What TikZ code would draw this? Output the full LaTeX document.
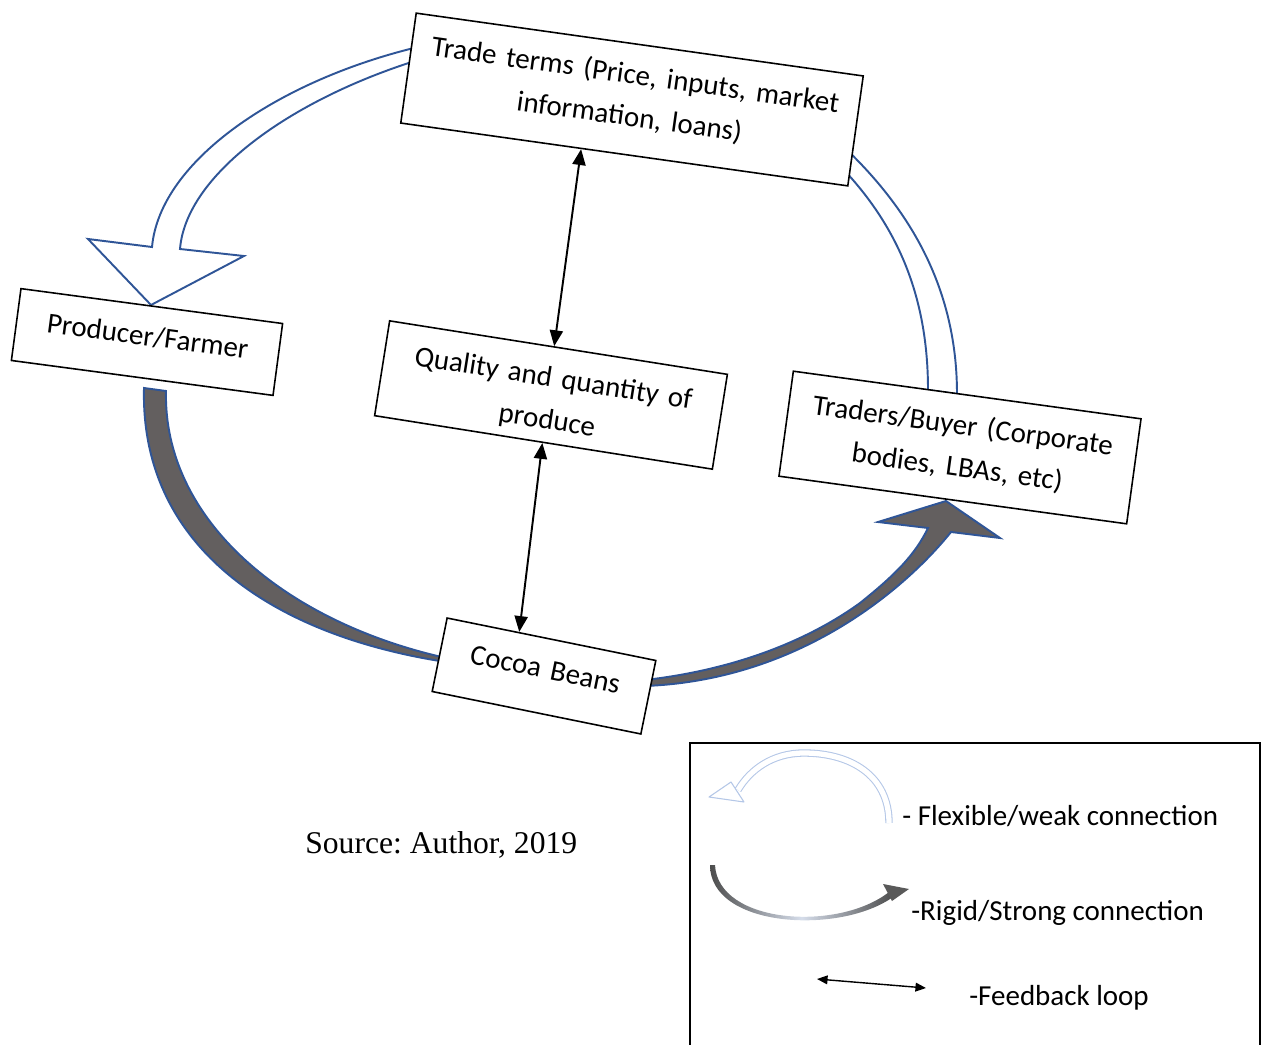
\documentclass[tikz,border=0pt]{standalone}
\usepackage{fontspec}
\setmainfont{Carlito}
\newfontfamily\srcfont{Liberation Serif}
\frenchspacing
\usetikzlibrary{arrows.meta,calc,backgrounds}

\definecolor{flowblue}{RGB}{47,85,151}
\definecolor{flowgrey}{RGB}{99,95,95}
\definecolor{legblue}{RGB}{180,199,231}
\newcommand\boxfont{\fontsize{16.5}{24}\selectfont}

\tikzset{
    box/.style={draw, fill=white, line width=0.9pt, inner sep=0pt, align=center,
        text height=0.8cm, rotate=#1, font=\boxfont},
    feedback/.style={line width=1.1pt,
        {Triangle[length=9pt,width=7.5pt]}-{Triangle[length=9pt,width=7.5pt]}},
    weak/.style={draw=flowblue, line width=1.1pt, fill=white},
    strong/.style={draw=flowblue, line width=1.1pt, fill=flowgrey},
    legtext/.style={anchor=base west, inner sep=0pt, font=\boxfont}
}

\begin{document}
\begin{tikzpicture}[x=0.02cm, y=-0.02cm]
    \useasboundingbox (0,0) rectangle (1269,1045);

    \node[box=-8, text width=9.03cm, text depth=1.42cm] (trade) at (632,99.5)
        {Trade terms (Price, inputs, market\\information, loans)};
    \node[box=-7.6, text width=5.28cm, text depth=0.65cm] (farmer) at (147,342)
        {Producer/Farmer};
    \node[box=-9, text width=6.84cm, text depth=1.12cm] (quality) at (551,395)
        {Quality and quantity of\\produce};
    \node[box=-7.8, text width=7.02cm, text depth=1.32cm] (traders) at (960,447.5)
        {Traders/Buyer (Corporate\\bodies, LBAs, etc)};
    \node[box=-11.5, text width=4.26cm, text depth=0.7cm] (beans) at (544,676)
        {Cocoa Beans};

    \draw[feedback] ($(trade.south west)!0.404!(trade.south east)$) -- ($(quality.north west)!0.487!(quality.north east)$);
    \draw[feedback] ($(quality.south west)!0.497!(quality.south east)$) -- ($(beans.north west)!0.346!(beans.north east)$);

    \begin{scope}[on background layer]
        \draw[weak] (418,47) .. controls (280,80) and (160,160) .. (152,247) -- (88,239) -- (151,305)
            -- (244,256) -- (180,249) .. controls (186,175) and (290,100) .. (418,60) -- cycle;
        \draw[weak] (846,149) .. controls (920,220) and (957,300) .. (957,394) -- (928,390)
            .. controls (928,300) and (900,230) .. (844,170) -- cycle;
        \draw[strong] (144,388) .. controls (140,545) and (270,635) .. (446,662) -- (446,658)
            .. controls (285,622) and (163,520) .. (166,391) -- cycle;
        \draw[strong] (645,686) .. controls (800,680) and (906,588) .. (951,532) -- (1000,538)
            -- (946,501) -- (878,522) -- (928,528) .. controls (915,555) and (895,575) .. (860,603)
            .. controls (820,632) and (750,668) .. (645,680) -- cycle;
    \end{scope}

    \node[anchor=base west, inner sep=0pt, font={\srcfont\fontsize{18}{22}\selectfont}] (source) at (305,853)
        {Source: Author, 2019};

    \draw[line width=0.9pt] (690,1045) -- (690,743) -- (1260,743) -- (1260,1045);
    \draw[legblue, line width=0.6pt, double=white, double distance=3pt] (889,823)
        .. controls (889,775) and (850,753) .. (804,753) .. controls (772,753) and (750,770) .. (738,790);
    \draw[legblue, line width=0.6pt, fill=white, line join=round] (731,782) -- (709,797) -- (744,802) -- cycle;
    \shade[left color=black!70, right color=black!70, middle color=flowblue!20!white]
        (710,865) .. controls (710,928) and (840,935) .. (893,897)
        -- (889,892) .. controls (838,932) and (718,924) .. (715,865) -- cycle;
    \fill[black!65] (883,884) -- (909,889) -- (892,901) -- cycle;
    \draw[line width=0.8pt, {Triangle[length=6pt,width=5pt]}-{Triangle[length=6pt,width=5pt]}] (817,979) -- (926,988);

    \node[legtext] (weaktxt) at (902,825) {- Flexible/weak connection};
    \node[legtext] (strongtxt) at (911,920) {-Rigid/Strong connection};
    \node[legtext] (fbtxt) at (969,1005) {-Feedback loop};
\end{tikzpicture}
\end{document}
